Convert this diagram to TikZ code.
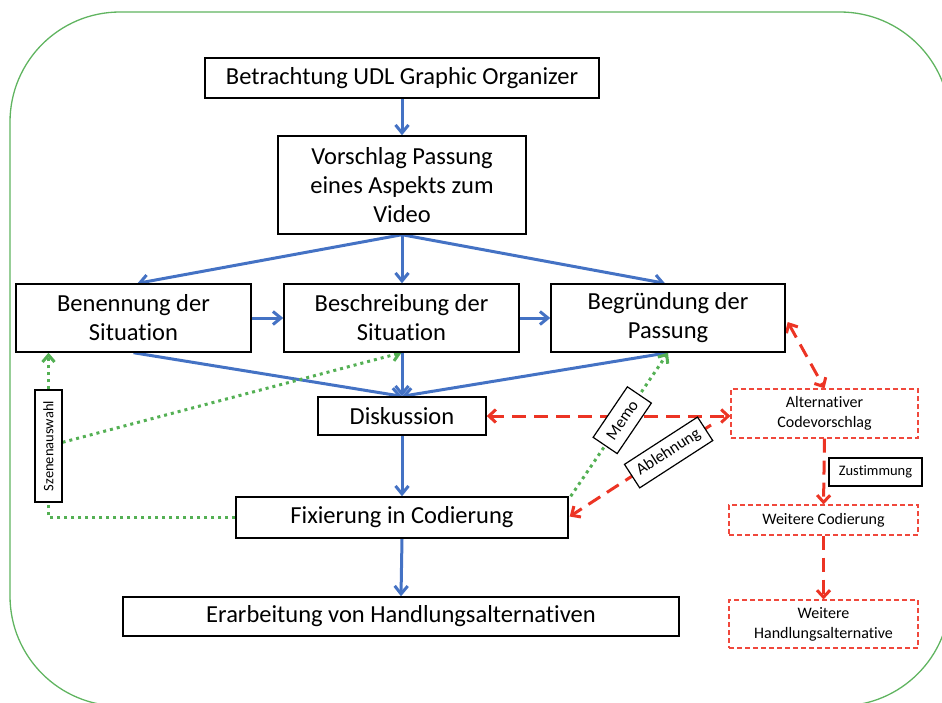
\documentclass[tikz,border=0pt]{standalone}
\usepackage{fontspec}
\setmainfont{Carlito}[Ligatures=NoCommon]
\usetikzlibrary{arrows.meta,calc,backgrounds}
\definecolor{myblue}{RGB}{68,114,196}
\definecolor{mygreen}{RGB}{84,176,84}
\definecolor{outergreen}{RGB}{96,180,96}
\definecolor{myred}{RGB}{236,52,36}
\definecolor{boxred}{RGB}{240,72,60}
\tikzset{
  box/.style={draw=black, line width=1.4pt, fill=white, inner sep=0pt, align=center,
    font=\fontsize{24.5}{29}\selectfont},
  redbox/.style={draw=boxred, dash pattern=on 5pt off 3pt, line width=1.2pt, fill=white,
    inner sep=0pt, align=center, font=\fontsize{16}{20}\selectfont},
  lab/.style={draw=black, solid, line width=1.2pt, fill=white, inner sep=0pt, minimum height=28pt,
    text=black, font=\fontsize{14.5}{16}\selectfont},
  biglab/.style={lab, font=\fontsize{16.5}{18}\selectfont},
  bluearrow/.style={draw=myblue, line width=3pt, -{Straight Barb[length=8pt,width=13pt]}},
  greenarrow/.style={draw=mygreen, line width=3pt, dash pattern=on 3pt off 4pt,
    -{Straight Barb[length=7pt,width=12pt]}},
  redarrow/.style={draw=myred, line width=3pt, dash pattern=on 14pt off 8pt,
    -{Straight Barb[length=7pt,width=13pt]}},
  redboth/.style={redarrow, {Straight Barb[length=7pt,width=13pt]}-{Straight Barb[length=7pt,width=13pt]}},
}
\begin{document}
\begin{tikzpicture}[x=1pt,y=-1pt]
\useasboundingbox (0,0) rectangle (942,702);
\clip (0,0) rectangle (942,702);

% main boxes
\node[box, minimum width=394pt, minimum height=40pt] (betr) at (402,78) {Betrachtung UDL Graphic Organizer};
\node[box, minimum width=248pt, minimum height=98pt] (vor) at (402,185) {Vorschlag Passung\\eines Aspekts zum\\Video};
\node[box, minimum width=235pt, minimum height=68pt] (ben) at (133.5,318) {Benennung der\\Situation};
\node[box, minimum width=235pt, minimum height=68pt] (besch) at (401.5,318) {Beschreibung der\\Situation};
\node[box, minimum width=234pt, minimum height=68pt] (begr) at (668,318) {Begründung der\\Passung};
\node[box, minimum width=168pt, minimum height=38pt] (dis) at (402,416) {Diskussion};
\node[box, minimum width=332pt, minimum height=41pt] (fix) at (402,517.5) {Fixierung in Codierung};
\node[box, minimum width=556pt, minimum height=39pt] (era) at (401,616.5) {Erarbeitung von Handlungsalternativen};

% red dashed boxes
\node[redbox, minimum width=187pt, minimum height=49pt] (alt) at (824.5,413.5) {Alternativer\\Codevorschlag};
\node[redbox, minimum width=189pt, minimum height=30pt] (wc) at (823.5,520) {Weitere Codierung};
\node[redbox, minimum width=189pt, minimum height=48pt] (wh) at (823.5,624) {Weitere\\Handlungsalternative};

% labels
\node[lab, minimum width=93pt] (zust) at (875.5,472) {Zustimmung};
\node[lab, minimum width=112pt, minimum height=27pt, rotate=90] (szen) at (48.5,446) {Szenenauswahl};

\coordinate (gcorner) at (48.5,517.5);
\coordinate (ablstart) at (711,425);

\begin{scope}[on background layer]
  \draw[draw=outergreen, line width=1.3pt, rounded corners=110pt] (10,12) rectangle (950,706);

  % blue flow
  \draw[bluearrow] (betr.south) -- (vor.north);
  \draw[bluearrow] (vor.south) -- ($(ben.north)+(4,0)$);
  \draw[bluearrow] (vor.south) -- (besch.north -| vor.south);
  \draw[bluearrow] (vor.south) -- ($(begr.north)+(-3,0)$);
  \draw[bluearrow] (ben.east) -- (besch.west);
  \draw[bluearrow] (besch.east) -- (begr.west);
  \draw[bluearrow] (ben.south) -- (dis.north);
  \draw[bluearrow] (besch.south -| dis.north) -- (dis.north);
  \draw[bluearrow] (begr.south) -- (dis.north);
  \draw[bluearrow] (dis.south) -- (fix.north);
  \draw[bluearrow] (fix.south) -- (era.north);

  % red dashed
  \draw[redboth] (dis.east) -- (dis.east -| alt.west);
  \draw[redboth] ($(begr.east)+(2,4)$) -- (alt.north);
  \draw[redarrow] (alt.south) -- (wc.north);
  \draw[redarrow] (wc.south) -- (wh.north);

  % green dotted
  \draw[greenarrow] (fix.west) -- (gcorner) -- (gcorner |- ben.south);
  \draw[greenarrow] (szen) -- (besch.south);
  \draw[greenarrow] ($(fix.north east)+(2,0)$) -- (begr.south)
    node[biglab, pos=0.53, sloped, minimum width=61pt, minimum height=29pt] (memo) {Memo};

  % Ablehnung
  \draw[redarrow] (ablstart) -- ($(fix.east)+(1,-1)$)
    node[biglab, pos=0.3, sloped, minimum width=87pt, minimum height=28pt] (abl) {Ablehnung};
\end{scope}
\end{tikzpicture}
\end{document}
